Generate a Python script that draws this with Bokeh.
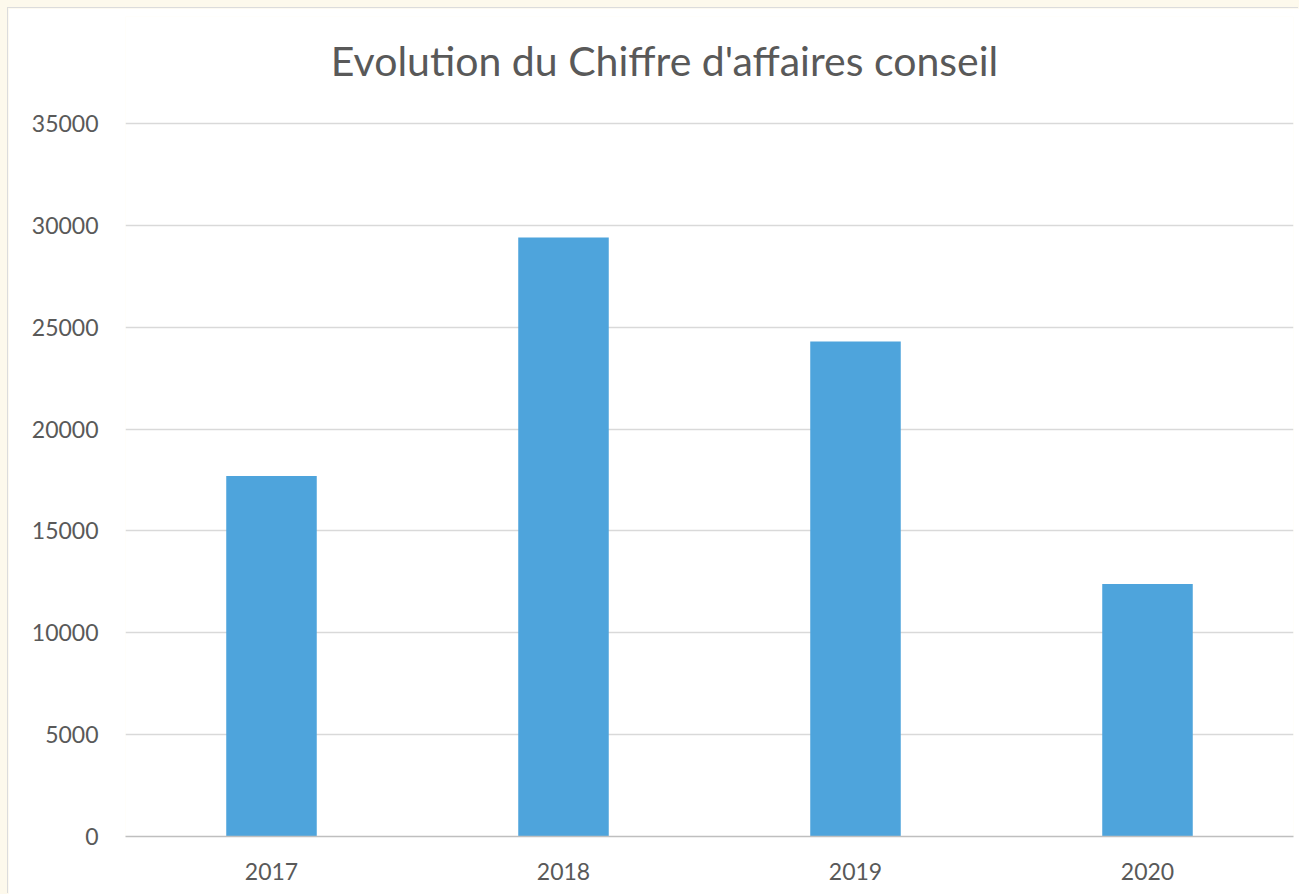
from bokeh.plotting import figure
from bokeh.models import ColumnDataSource, FixedTicker, Label
from bokeh.embed import file_html
from bokeh.resources import INLINE

title_text = "Evolution du Chiffre d'affaires conseil"
years = ["2017", "2018", "2019", "2020"]
revenue = [17700, 29400, 24300, 12400]
y_ticks = [0, 5000, 10000, 15000, 20000, 25000, 30000, 35000]

FONT = "Lato"
TXT = "#595959"

src = ColumnDataSource(data=dict(year=years, value=revenue))

# frame extends above the top gridline so that the title can sit inside it
p = figure(x_range=years, y_range=(0, 40252), width=1291, height=886,
           output_backend="svg", toolbar_location=None,
           min_border_left=117, min_border_right=6,
           min_border_top=8, min_border_bottom=58)
p.x_range.range_padding = 0
p.vbar(x="year", top="value", width=0.31, source=src,
       fill_color="#4ea4dc", line_color=None)

p.outline_line_color = None
p.background_fill_color = "white"
p.border_fill_color = "white"
p.styles = {"box-shadow": "-1px -1px 0 #dcdcdc"}

title = Label(x=1.846, y=38093, text=title_text, text_align="center",
              text_baseline="middle", text_font=FONT, text_font_size="41px",
              text_color=TXT)
p.add_layout(title)

p.xgrid.grid_line_color = None
p.ygrid.grid_line_color = "#d9d9d9"
p.ygrid.grid_line_width = 1.3

p.yaxis.ticker = FixedTicker(ticks=y_ticks)
p.yaxis.axis_line_color = None
p.yaxis.major_tick_line_color = None
p.yaxis.minor_tick_line_color = None
p.yaxis.major_label_standoff = 21
p.yaxis.major_label_text_font = FONT
p.yaxis.major_label_text_font_size = "23px"
p.yaxis.major_label_text_color = TXT

p.xaxis.axis_line_color = "#bfbfbf"
p.xaxis.axis_line_width = 1.3
p.xaxis.major_tick_line_color = None
p.xaxis.minor_tick_line_color = None
p.xaxis.major_label_standoff = 20
p.xaxis.major_label_text_font = FONT
p.xaxis.major_label_text_font_size = "23px"
p.xaxis.major_label_text_color = TXT

html = file_html(p, INLINE)
css = ("<style>html, body {background:#fdf9ec !important;} "
       "body {padding: 8px 0 0 8px !important;}</style>")
i = html.rfind("</head>")
html = html[:i] + css + html[i:]
open("out.html", "w").write(html)
